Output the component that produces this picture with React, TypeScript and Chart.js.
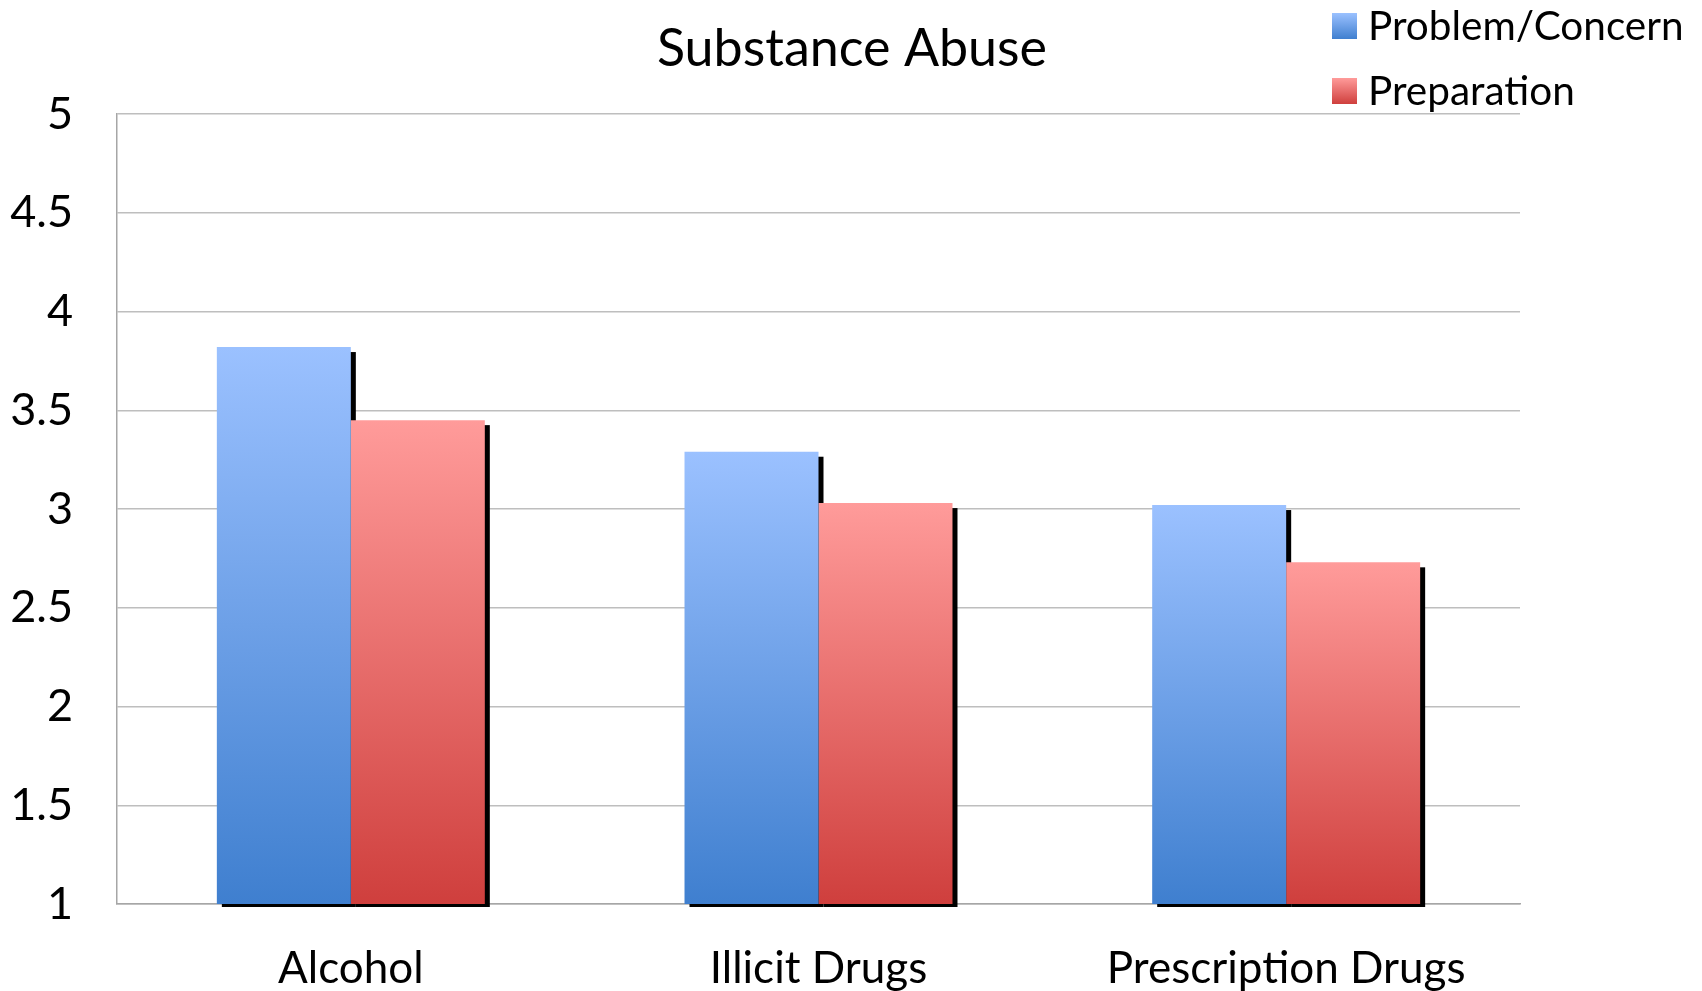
import React, { useEffect, useRef } from "react";
import { Chart, registerables } from "chart.js";

Chart.register(...registerables);

const chartTitle = "Substance Abuse";
const categories = ["Alcohol", "Illicit Drugs", "Prescription Drugs"];
const seriesNames = ["Problem/Concern", "Preparation"];
const problemConcern = [3.82, 3.29, 3.02];
const preparation = [3.45, 3.03, 2.73];
const yMin = 1;
const yMax = 5;
const yStep = 0.5;

const FONT = "Lato, 'Open Sans', sans-serif";
const blueStops = ["#9BC1FF", "#3F7FCF"];
const redStops = ["#FF9B9A", "#CF3F3D"];

function gradFor(stops: string[]) {
  return (ctx: any) => {
    const chart = ctx.chart;
    const { chartArea, scales } = chart;
    if (!chartArea || !scales || !scales.y || ctx.type !== "data") return stops[0];
    const v = ctx.dataset.data[ctx.dataIndex];
    const top = scales.y.getPixelForValue(v);
    const bottom = scales.y.getPixelForValue(yMin);
    if (!isFinite(top) || !isFinite(bottom) || top === bottom) return stops[0];
    const g = chart.ctx.createLinearGradient(0, top, 0, bottom);
    g.addColorStop(0, stops[0]);
    g.addColorStop(1, stops[1]);
    return g;
  };
}

const shadowPlugin = {
  id: "barShadow",
  beforeDatasetsDraw(chart: any) {
    const ctx = chart.ctx;
    const area = chart.chartArea;
    ctx.save();
    ctx.fillStyle = "#000";
    chart.data.datasets.forEach((_d: any, i: number) => {
      const meta = chart.getDatasetMeta(i);
      meta.data.forEach((el: any) => {
        const p = el.getProps(["x", "y", "base", "width"], true);
        const left = p.x - p.width / 2 + 5;
        const top = Math.max(p.y, area.top) + 5;
        const bottom = Math.min(p.base, area.bottom) + 3;
        ctx.fillRect(left, top, p.width, bottom - top);
      });
    });
    ctx.restore();
  },
};

const decorPlugin = {
  id: "decor",
  afterDraw(chart: any) {
    const ctx = chart.ctx;
    ctx.save();
    // title
    ctx.fillStyle = "#000";
    ctx.font = `52px ${FONT}`;
    ctx.textAlign = "center";
    ctx.textBaseline = "alphabetic";
    ctx.fillText(chartTitle, chart.width / 2 + 1, 66);
    // legend
    const stops = [blueStops, redStops];
    ctx.font = `40.5px ${FONT}`;
    ctx.textAlign = "left";
    seriesNames.forEach((name, i) => {
      const y0 = 13 + i * 65;
      const g = ctx.createLinearGradient(0, y0, 0, y0 + 26);
      g.addColorStop(0, stops[i][0]);
      g.addColorStop(1, stops[i][1]);
      ctx.fillStyle = g;
      ctx.fillRect(1332, y0, 25, 26);
      ctx.fillStyle = "#000";
      ctx.fillText(name, 1368, y0 + 27);
    });
    ctx.restore();
  },
};

export default function App() {
  const ref = useRef<HTMLCanvasElement | null>(null);
  useEffect(() => {
    if (!ref.current) return;
    const chart = new Chart(ref.current, {
      type: "bar",
      data: {
        labels: categories,
        datasets: [
          {
            label: seriesNames[0],
            data: problemConcern,
            backgroundColor: gradFor(blueStops),
            borderWidth: 0,
            barPercentage: 1,
            categoryPercentage: 0.573,
          },
          {
            label: seriesNames[1],
            data: preparation,
            backgroundColor: gradFor(redStops),
            borderWidth: 0,
            barPercentage: 1,
            categoryPercentage: 0.573,
          },
        ],
      },
      options: {
        responsive: false,
        animation: false,
        layout: { padding: { top: 114, right: 182, left: 0, bottom: 0 } },
        plugins: {
          legend: { display: false },
          title: { display: false },
          tooltip: { enabled: false },
        },
        scales: {
          x: {
            grid: { display: false },
            border: { display: true, color: "#A6A6A6", width: 1.5 },
            ticks: {
              color: "#000",
              font: { family: FONT, size: 44 },
              padding: 30,
            },
            afterFit: (s: any) => {
              s.height = 87;
            },
          },
          y: {
            min: yMin,
            max: yMax,
            grid: { color: "#BEBEBE", lineWidth: 1.5, drawTicks: false },
            border: { display: true, color: "#A6A6A6", width: 1.5 },
            ticks: {
              stepSize: yStep,
              color: "#000",
              font: { family: FONT, size: 45 },
              padding: 44,
              callback: (v: any) => String(Number(v)),
            },
            afterFit: (s: any) => {
              s.width = 117;
            },
          },
        },
      },
      plugins: [shadowPlugin, decorPlugin],
    });
    return () => chart.destroy();
  }, []);
  return (
    <div style={{ position: "absolute", left: 0, top: 0, width: 1702, height: 991 }}>
      <canvas ref={ref} width={1702} height={991} style={{ display: "block" }} />
    </div>
  );
}
